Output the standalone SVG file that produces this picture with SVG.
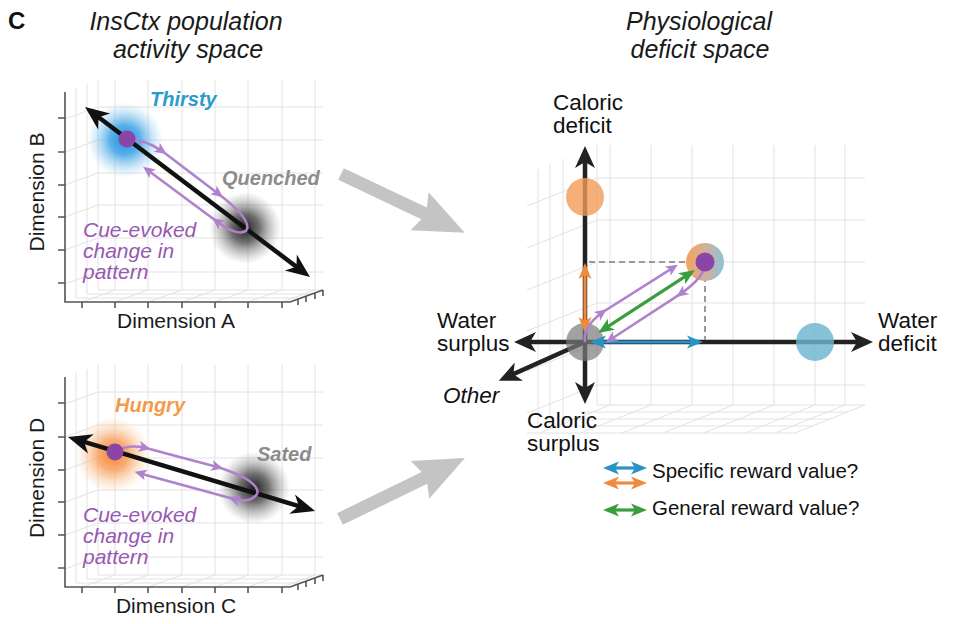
<svg xmlns="http://www.w3.org/2000/svg" xmlns:xlink="http://www.w3.org/1999/xlink" width="960" height="624" viewBox="0 0 960 624">
<style>
text { font-family: "Liberation Sans", Arial, Helvetica, sans-serif; }
.title { font-size: 25px; font-style: italic; fill: #1a1a1a; text-anchor: middle; }
.lbl { font-size: 21px; fill: #1a1a1a; }
.rl { font-size: 22.5px; fill: #111; }
.leg { font-size: 20.5px; fill: #111; }
.state { font-size: 20px; font-style: italic; font-weight: bold; }
.cue { font-size: 21px; font-style: italic; fill: #9758b3; }
.grid { fill: none; stroke: #e2e2e2; stroke-width: 1; }
.ax { fill: none; stroke: #555; stroke-width: 1.6; }
.blk { fill: none; stroke: #111; stroke-width: 4.5; marker-start: url(#mBlk); marker-end: url(#mBlk); }
.loop { fill: none; stroke: #ae82cc; stroke-width: 2.6; }
.la { marker-end: url(#mPur); }
.axis { fill: none; stroke: #222; stroke-width: 4.5; }
.bigarrow { fill: #c4c4c4; }
</style>
<defs>
<marker id="mBlk" viewBox="-16 -11 27 22" markerWidth="27" markerHeight="22" refX="0" refY="0" orient="auto-start-reverse" markerUnits="userSpaceOnUse"><path d="M10,0 L-14,-10 L-7,0 L-14,10 Z" fill="#111"/></marker>
<marker id="mAx" viewBox="-15 -11 26 22" markerWidth="26" markerHeight="22" refX="0" refY="0" orient="auto-start-reverse" markerUnits="userSpaceOnUse"><path d="M9,0 L-13,-10 L-7,0 L-13,10 Z" fill="#222"/></marker>
<marker id="mPur" viewBox="-8 -6 14 12" markerWidth="14" markerHeight="12" refX="0" refY="0" orient="auto" markerUnits="userSpaceOnUse"><path d="M5,0 L-7,-5.5 L-4,0 L-7,5.5 Z" fill="#ae82cc"/></marker>
<marker id="mBlue" viewBox="-10 -7 18 14" markerWidth="18" markerHeight="14" refX="0" refY="0" orient="auto-start-reverse" markerUnits="userSpaceOnUse"><path d="M7,0 L-9,-6.5 L-5,0 L-9,6.5 Z" fill="#2b93c4"/></marker>
<marker id="mOrg" viewBox="-10 -7 18 14" markerWidth="18" markerHeight="14" refX="0" refY="0" orient="auto-start-reverse" markerUnits="userSpaceOnUse"><path d="M7,0 L-9,-6.5 L-5,0 L-9,6.5 Z" fill="#f08a3c"/></marker>
<marker id="mGrn" viewBox="-10 -7 18 14" markerWidth="18" markerHeight="14" refX="0" refY="0" orient="auto-start-reverse" markerUnits="userSpaceOnUse"><path d="M7,0 L-9,-6.5 L-5,0 L-9,6.5 Z" fill="#3a9e3e"/></marker>
<radialGradient id="gBlue"><stop offset="0" stop-color="#1e90e0"/><stop offset="0.4" stop-color="#3ea3e6" stop-opacity="0.85"/><stop offset="1" stop-color="#9fd0f0" stop-opacity="0"/></radialGradient>
<radialGradient id="gGray"><stop offset="0" stop-color="#111" stop-opacity="0.95"/><stop offset="0.4" stop-color="#333" stop-opacity="0.7"/><stop offset="1" stop-color="#888" stop-opacity="0"/></radialGradient>
<radialGradient id="gOrg"><stop offset="0" stop-color="#f5862e"/><stop offset="0.4" stop-color="#f7a060" stop-opacity="0.85"/><stop offset="1" stop-color="#fbd0a8" stop-opacity="0"/></radialGradient>
<linearGradient id="gMix" x1="0" y1="0" x2="1" y2="0"><stop offset="0" stop-color="#f3a35f"/><stop offset="0.5" stop-color="#d5ae98"/><stop offset="1" stop-color="#8cc3da"/></linearGradient>
<g id="frame">
<path class="grid" d="M98,80 V290 M115,80 V290 M148,80 V290 M182,80 V290 M215,80 V290 M248,80 V290 M282,80 V290 M315,80 V290 M98,107 H323 M98,140 H323 M98,173 H323 M98,205 H323 M98,238 H323 M98,272 H323 M65,119 L98,107 M65,152 L98,140 M65,185 L98,173 M65,217 L98,205 M65,250 L98,238 M65,284 L98,272 M76,88 V298 M87,84 V294 M82,302 L115,290 M115,302 L148,290 M148,302 L182,290 M182,302 L215,290 M215,302 L248,290 M248,302 L282,290 M282,302 L315,290 M76,298 H301 M87,294 H312 M98,290 H323"/>
<path class="ax" d="M65,92 V302 H290 L323,290 M58,118 H65 M58,152 H65 M58,185 H65 M58,217 H65 M58,250 H65 M58,283 H65 M82,302 v6 M115,302 v6 M148,302 v6 M182,302 v6 M215,302 v6 M248,302 v6 M282,302 v6 M298,299 v6 M306,296 v6 M315,293 v6 M323,290 v6"/>
</g>
</defs>
<rect width="960" height="624" fill="#fff"/>

<g id="headings">
<text x="8" y="29" style="font-size:24px;font-weight:bold;fill:#111">C</text>
<text class="title" x="186" y="29.5">InsCtx population</text>
<text class="title" x="188" y="58">activity space</text>
<text class="title" x="699" y="29.5">Physiological</text>
<text class="title" x="700" y="58">deficit space</text>
</g>

<g id="panel-thirst">
<use href="#frame"/>
<circle cx="125" cy="140" r="38" fill="url(#gBlue)"/>
<circle cx="245" cy="228" r="36" fill="url(#gGray)"/>
<text class="state" x="150" y="106" fill="#2b9bcb">Thirsty</text>
<text class="state" x="222" y="185" fill="#8c8c8c">Quenched</text>
<text class="cue" x="83" y="237">Cue-evoked</text>
<text class="cue" x="83" y="258">change in</text>
<text class="cue" x="83" y="279">pattern</text>
<line class="blk" x1="93" y1="113" x2="302" y2="271"/>
<g class="loop" transform="translate(187,185) rotate(37.2)">
<path class="la" d="M-75,0 Q-62,-11 -40,-12"/>
<path class="la" d="M-40,-12 L31,-12"/>
<path d="M31,-12 Q72,-12 75,0"/>
<path class="la" d="M75,0 Q72,11 45,11"/>
<path class="la" d="M45,11 L-41,12"/>
</g>
<circle cx="127" cy="139" r="8.5" fill="#8b45a6"/>
<text class="lbl" transform="translate(44,192) rotate(-90)" text-anchor="middle">Dimension B</text>
<text class="lbl" x="176" y="328" text-anchor="middle">Dimension A</text>
</g>

<g id="panel-hunger">
<use href="#frame" y="285"/>
<circle cx="113" cy="455" r="38" fill="url(#gOrg)"/>
<circle cx="254" cy="488" r="36" fill="url(#gGray)"/>
<text class="state" x="115" y="412" fill="#f39a4b">Hungry</text>
<text class="state" x="257" y="461" fill="#8c8c8c">Sated</text>
<text class="cue" x="83" y="522">Cue-evoked</text>
<text class="cue" x="83" y="543">change in</text>
<text class="cue" x="83" y="564">pattern</text>
<line class="blk" x1="77.5" y1="439.9" x2="305.5" y2="508.1"/>
<g class="loop" transform="translate(186.5,472.5) rotate(16.5)">
<path class="la" d="M-74,0 Q-64,-11 -46,-12"/>
<path class="la" d="M-46,-12 L29,-14"/>
<path d="M29,-14 Q72,-13 74,0"/>
<path class="la" d="M74,0 Q70,12 52,12"/>
<path class="la" d="M52,12 L-45,14"/>
</g>
<circle cx="115" cy="452" r="8.5" fill="#8b45a6"/>
<text class="lbl" transform="translate(44,478) rotate(-90)" text-anchor="middle">Dimension D</text>
<text class="lbl" x="176" y="613" text-anchor="middle">Dimension C</text>
</g>

<g id="connectors">
<polygon class="bigarrow" transform="translate(341,174) rotate(25.4)" points="0,-6.5 92,-6.5 87,-21 137,0 87,21 92,6.5 0,6.5"/>
<polygon class="bigarrow" transform="translate(340,519) rotate(-26)" points="0,-6.5 94,-6.5 89,-21 139,0 89,21 94,6.5 0,6.5"/>
</g>

<g id="panel-deficit">
<path class="grid" d="M597,145 V405 M610,145 V405 M651,145 V405 M692,145 V405 M733,145 V405 M774,145 V405 M815,145 V405 M845,145 V405 M597,178 H865 M597,220 H865 M597,262 H865 M597,303 H865 M597,343 H865 M597,385 H865 M597,178 L527,206 M597,220 L527,248 M597,262 L527,290 M597,303 L527,331 M597,343 L527,371 M597,385 L527,413 M563,159 V419 M550,164 V424 M538,169 V429 M610,405 L540,433 M651,405 L581,433 M692,405 L622,433 M733,405 L663,433 M774,405 L704,433 M815,405 L745,433 M845,405 L775,433 M865,405 L795,433 M597,405 H865 M580,412 H848 M562,419 H830 M545,426 H813 M527,433 H795"/>
<line class="axis" x1="585" y1="395" x2="585" y2="155" marker-start="url(#mAx)" marker-end="url(#mAx)"/>
<line class="axis" x1="523" y1="342" x2="864" y2="342" marker-start="url(#mAx)" marker-end="url(#mAx)"/>
<line class="axis" x1="585" y1="342" x2="507" y2="377" marker-end="url(#mAx)"/>
<circle cx="585" cy="197" r="19" fill="#f39c58" fill-opacity="0.8"/>
<circle cx="815" cy="342" r="19" fill="#6db4cf" fill-opacity="0.82"/>
<circle cx="585" cy="342" r="19" fill="#7a7a7a" fill-opacity="0.7"/>
<path d="M589,262 H705 V340" fill="none" stroke="#9a9a9a" stroke-width="2" stroke-dasharray="6,4"/>
<circle cx="705" cy="262" r="19" fill="url(#gMix)"/>
<line x1="585" y1="326" x2="585" y2="270" stroke="#f08a3c" stroke-width="3.2" marker-start="url(#mOrg)" marker-end="url(#mOrg)"/>
<line x1="597" y1="342" x2="696" y2="342" stroke="#2b93c4" stroke-width="3.2" marker-start="url(#mBlue)" marker-end="url(#mBlue)"/>
<line x1="603.9" y1="329.2" x2="689.1" y2="273.8" stroke="#3a9e3e" stroke-width="3.2" marker-start="url(#mGrn)" marker-end="url(#mGrn)"/>
<g class="loop" transform="translate(645,302) rotate(-33.7)">
<path class="la" d="M-72,0 Q-66,-14 -41,-15"/>
<path class="la" d="M-41,-15 L43,-13"/>
<path class="la" d="M72,0 Q66,12 34,13"/>
<path class="la" d="M34,13 L-50,12"/>
</g>
<circle cx="705" cy="262" r="9.5" fill="#8b45a6"/>
<text class="rl" x="553" y="110">Caloric</text>
<text class="rl" x="553" y="133">deficit</text>
<text class="rl" x="437" y="328">Water</text>
<text class="rl" x="437" y="351">surplus</text>
<text class="rl" x="443" y="403" font-style="italic">Other</text>
<text class="rl" x="527" y="428">Caloric</text>
<text class="rl" x="527" y="451">surplus</text>
<text class="rl" x="878" y="328">Water</text>
<text class="rl" x="878" y="351">deficit</text>
</g>

<g id="legend">
<line x1="610" y1="468" x2="640" y2="468" stroke="#2b93c4" stroke-width="3.2" marker-start="url(#mBlue)" marker-end="url(#mBlue)"/>
<line x1="610" y1="483" x2="640" y2="483" stroke="#f08a3c" stroke-width="3.2" marker-start="url(#mOrg)" marker-end="url(#mOrg)"/>
<line x1="610" y1="510" x2="640" y2="510" stroke="#3a9e3e" stroke-width="3.2" marker-start="url(#mGrn)" marker-end="url(#mGrn)"/>
<text class="leg" x="652" y="478">Specific reward value?</text>
<text class="leg" x="652" y="515">General reward value?</text>
</g>
</svg>
